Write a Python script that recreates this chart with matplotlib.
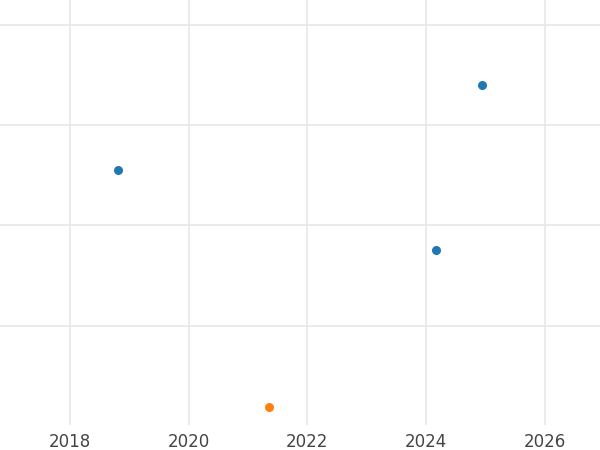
import matplotlib
matplotlib.use('Agg')
import matplotlib.pyplot as plt

# data
blue_x = [2018.81, 2024.95, 2024.17]
blue_y = [1.55, 2.40, 0.75]
orange_x = [2021.35]
orange_y = [-0.81]
year_ticks = [2018, 2020, 2022, 2024, 2026]

fig = plt.figure(figsize=(6, 4.5), dpi=100)
ax = fig.add_axes([0, 0.056, 1, 0.944])
ax.scatter(blue_x, blue_y, color='#1f77b4', s=30, zorder=3)
ax.scatter(orange_x, orange_y, color='#ff7f0e', s=30, zorder=3)

ax.set_xlim(2016.82, 2026.93)
ax.set_ylim(-0.99, 3.25)
ax.set_xticks(year_ticks)
ax.set_xticklabels([str(t) for t in year_ticks], fontsize=12, color='#444444')
ax.set_yticks([0, 1, 2, 3])
ax.set_yticklabels([])
ax.tick_params(length=0, pad=6)
ax.grid(color='#e8e8e8', linewidth=1.2)
ax.set_axisbelow(True)
for s in ax.spines.values():
    s.set_visible(False)

fig.savefig('out.png')
